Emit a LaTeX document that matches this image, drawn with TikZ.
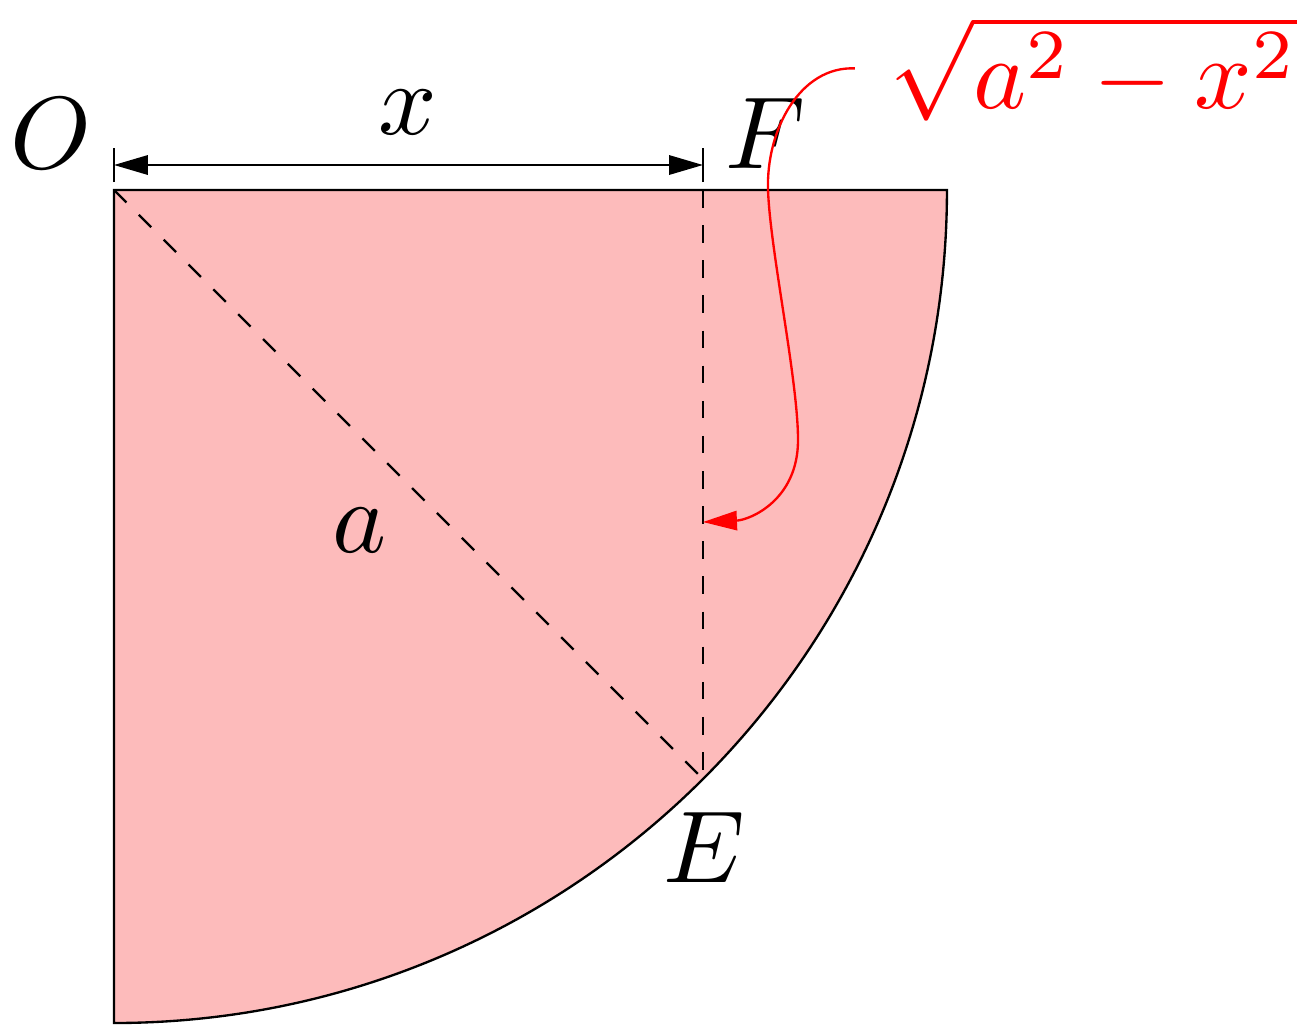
\documentclass[tikz,border=0pt]{standalone}
\usetikzlibrary{arrows.meta}
\definecolor{sectorpink}{RGB}{253,187,187}
\begin{document}
\begin{tikzpicture}[
  lbl/.style={scale=1.75, inner sep=0pt},
  dimline/.style={line width=0.4pt, {Triangle[length=5.8pt,width=3.3pt]}-{Triangle[length=5.8pt,width=3.3pt]}},
  pointer/.style={red, line width=0.4pt, -{Triangle[length=5.8pt,width=3.3pt]}}
]
\useasboundingbox (-0.684,-5.012) rectangle (7.113,1.1405);
% key points
\coordinate (O) at (0,0);
\coordinate (B) at (5,0);
\coordinate (F) at ({5*cos(45)},0);
\coordinate (E) at ({5*cos(45)},{-5*sin(45)});
% sector
\draw[fill=sectorpink, line width=0.4pt] (O) -- (B) arc[start angle=0, end angle=-90, radius=5] -- cycle;
\draw[dashed, line width=0.4pt] (O) -- (E);
\draw[dashed, line width=0.4pt] (F) -- (E);
% dimension x
\coordinate (dL) at (0,0.15);
\coordinate (dR) at ({5*cos(45)},0.15);
\coordinate (tL1) at (0,0.048);
\coordinate (tL2) at (0,0.252);
\coordinate (tR1) at ({5*cos(45)},0.048);
\coordinate (tR2) at ({5*cos(45)},0.252);
\draw[line width=0.4pt] (tL1) -- (tL2);
\draw[line width=0.4pt] (tR1) -- (tR2);
\draw[dimline] (dL) -- (dR);
% labels
\node[lbl] (lO) at (-0.378,0.342) {$O$};
\node[lbl] (lx) at (1.765,0.468) {$x$};
\node[lbl] (lF) at (3.914,0.342) {$F$};
\node[lbl] (la) at (1.477,-2.041) {$a$};
\node[lbl] (lE) at (3.541,-3.944) {$E$};
\node[lbl, scale=0.983, red, inner sep=3.2pt] (sq) at (5.878,0.730) {$\sqrt{a^2-x^2}$};
% pointer curve
\coordinate (m1) at (3.926,0);
\coordinate (m2) at (4.106,-1.501);
\coordinate (T) at ({5*cos(45)},-1.993);
\draw[pointer] (sq.west) .. controls (4.118,0.744) and (3.914,0.360) .. (m1)
  .. controls (3.938,-0.360) and (4.106,-1.140) .. (m2)
  .. controls (4.106,-1.861) and (3.818,-1.981) .. (T);
\end{tikzpicture}
\end{document}
